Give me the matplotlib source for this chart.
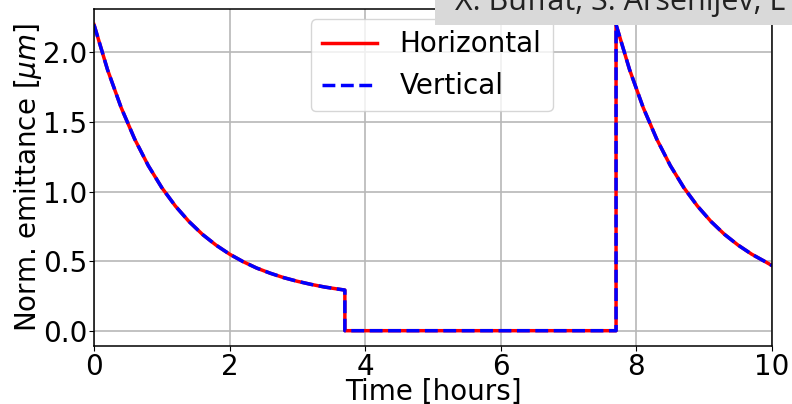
import matplotlib
matplotlib.use("Agg")
import matplotlib.pyplot as plt
from matplotlib.patches import Rectangle

# Beam emittance during a fill: decay, beam dump, refill, decay again
time_fill1 = [0.0, 0.2, 0.4, 0.6, 0.8, 1.0, 1.2, 1.4, 1.6, 1.8, 2.0, 2.2, 2.4,
              2.6, 2.8, 3.0, 3.2, 3.4, 3.6, 3.7]
emit_fill1 = [2.200, 1.875, 1.604, 1.377, 1.187, 1.028, 0.896, 0.785, 0.692,
              0.615, 0.550, 0.496, 0.450, 0.413, 0.381, 0.355, 0.333, 0.314,
              0.299, 0.292]
time_gap = [3.7, 7.7]
emit_gap = [0.0, 0.0]
time_fill2 = [7.7, 7.9, 8.1, 8.3, 8.5, 8.7, 8.9, 9.1, 9.3, 9.5, 9.7, 9.9, 10.0]
emit_fill2 = [2.200, 1.875, 1.604, 1.377, 1.187, 1.028, 0.896, 0.785, 0.692,
              0.615, 0.550, 0.496, 0.468]

time = time_fill1 + time_gap + time_fill2
emit_h = emit_fill1 + emit_gap + emit_fill2
emit_v = list(emit_h)

x_ticks = [0, 2, 4, 6, 8, 10]
y_ticks = [0.0, 0.5, 1.0, 1.5, 2.0]

W, H = 792, 404
ax_bottom_px, ax_top_px = 346, 9.3
fig = plt.figure(figsize=(W / 100, H / 100), dpi=100)
ax = fig.add_axes([94 / W, 1 - ax_bottom_px / H, (772 - 94) / W,
                   (ax_bottom_px - ax_top_px) / H])

ax.plot(time, emit_h, color="red", lw=2.5, label="Horizontal")
ax.plot(time, emit_v, color="blue", lw=2.5, ls="--", label="Vertical")

ax.set_xlim(0, 10)
ax.set_ylim(-0.11, 2.31)
ax.set_xticks(x_ticks)
ax.set_yticks(y_ticks)
ax.set_yticklabels([f"{v:.1f}" for v in y_ticks])
ax.grid(True, color="#b8b8b8", lw=1.2)
ax.tick_params(labelsize=20, pad=1.5)
for s in ax.spines.values():
    s.set_linewidth(1.1)

ax.set_xlabel("Time [hours]", fontsize=20)
ax.xaxis.set_label_coords(0.5, -(378 - ax_bottom_px) / (ax_bottom_px - ax_top_px))
ax.set_ylabel(r"Norm. emittance [$\mu m$]", fontsize=20, labelpad=-1)

ax.legend(loc="upper center", fontsize=20, bbox_to_anchor=(0.498, 0.995),
          handlelength=2.0, borderaxespad=0.3)

# Author banner along the top edge
fig.add_artist(Rectangle((435 / W, 1 - 25 / H), 1 - 435 / W, 25 / H,
                         transform=fig.transFigure, fc="#d9d9d9", ec="none",
                         zorder=10))
fig.text(455 / W, 1 - 10 / H, "X. Buffat, S. Arsenijev, L", fontsize=22,
         family="Open Sans", color="#222222", ha="left", va="baseline",
         zorder=11)

fig.savefig("out.png", dpi=100)
